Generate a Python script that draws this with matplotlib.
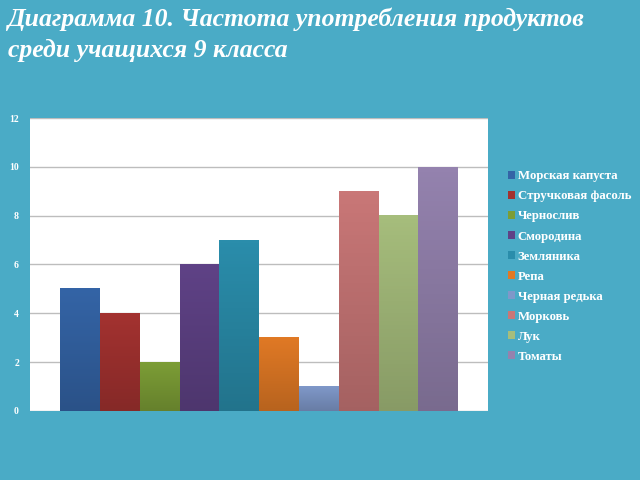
import matplotlib.pyplot as plt
import numpy as np

# данные
продукты = ['Морская капуста', 'Стручковая фасоль', 'Чернослив', 'Смородина',
            'Земляника', 'Репа', 'Черная редька', 'Морковь', 'Лук', 'Томаты']
значения = [5, 4, 2, 6, 7, 3, 1, 9, 8, 10]
цвета = ['#3464a6', '#a33230', '#7c9d36', '#5f4286', '#2a8dab',
         '#e07925', '#7f98c9', '#c97777', '#a6bd7c', '#9482ae']

bg = '#4aabc6'
fig = plt.figure(figsize=(6.4, 4.8), dpi=100, facecolor=bg)
ax = fig.add_axes([0.047, 0.144, 0.716, 0.61])
ax.set_facecolor('white')

#столбцы
n = len(значения)
w = 0.0625
x = np.arange(n) * w - (n - 1) * w / 2
bars = []
for xi, v, c, p in zip(x, значения, цвета, продукты):
    # градиент: светлее сверху, темнее снизу
    grad = np.linspace(0.82, 1.0, 50).reshape(-1, 1)
    base = np.array(plt.matplotlib.colors.to_rgb(c))
    img = np.clip(base[None, None, :] * grad[:, :, None], 0, 1)
    img = np.concatenate([img, img], axis=1)
    ax.imshow(img, extent=(xi - w / 2, xi + w / 2, 0, v), origin='lower', aspect='auto', zorder=3)
    b = ax.bar(xi, v, w, color=c, label=p, zorder=2)
    bars.append(b)

ax.set_xlim(-0.36, 0.36)
ax.set_ylim(0, 12)
ax.set_yticks(range(0, 13, 2))
ax.set_xticks([])
ax.grid(axis='y', color='#bdbdbd', linewidth=1, zorder=0)
for s in ax.spines.values():
    s.set_visible(False)
ax.tick_params(axis='y', length=0, pad=8, labelcolor='white', labelsize=7)
for t in ax.get_yticklabels():
    t.set_fontfamily('Liberation Serif')
    t.set_fontweight('bold')

leg = fig.legend(handles=bars, labels=продукты, loc='upper left', bbox_to_anchor=(0.775, 0.669),
                 frameon=False, handlelength=0.55, handleheight=0.55, handletextpad=0.25,
                 labelspacing=0.63,
                 prop={'family': 'Liberation Serif', 'weight': 'bold', 'size': 9.2})
for t in leg.get_texts():
    t.set_color('white')

fig.text(0.012, 0.985, 'Диаграмма 10. Частота употребления продуктов\nсреди учащихся 9 класса',
         ha='left', va='top', color='white', fontsize=18.5, fontfamily='Liberation Serif',
         fontweight='bold', fontstyle='italic', linespacing=1.45)

plt.savefig('out.png', dpi=100, facecolor=bg)
